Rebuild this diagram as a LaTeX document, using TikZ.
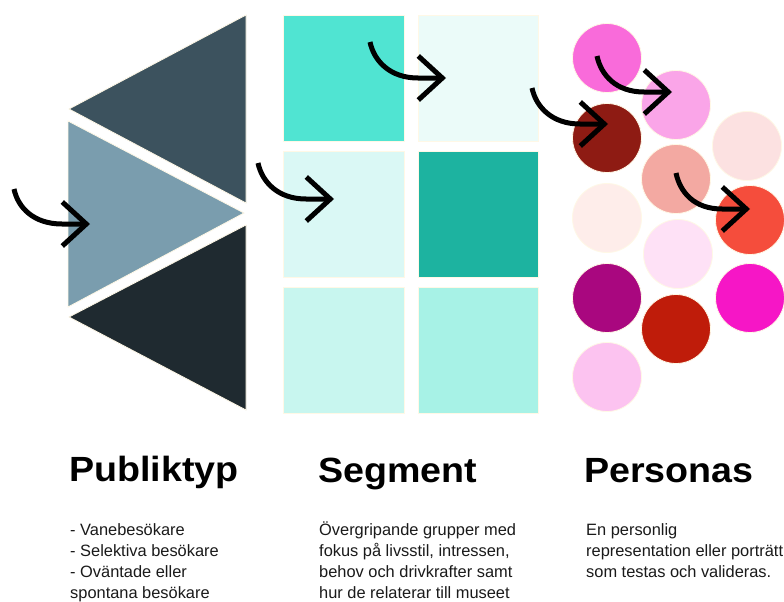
\documentclass[tikz,border=0pt]{standalone}
\usepackage{fontspec}
\setmainfont{Liberation Sans}
\newfontfamily\titlefam[FakeStretch=1.075]{Liberation Sans}
\usetikzlibrary{arrows.meta,calc}
\definecolor{triA}{HTML}{3C525E}
\definecolor{triB}{HTML}{7A9DAE}
\definecolor{triC}{HTML}{1F2A30}
\definecolor{sqA}{HTML}{50E4D2}
\definecolor{sqB}{HTML}{EBFBF9}
\definecolor{sqC}{HTML}{DAF8F5}
\definecolor{sqD}{HTML}{1DB3A0}
\definecolor{sqE}{HTML}{C8F6EF}
\definecolor{sqF}{HTML}{A7F2E6}
\definecolor{ciA}{HTML}{F96BDA}
\definecolor{ciB}{HTML}{FAA5E8}
\definecolor{ciC}{HTML}{8E1B13}
\definecolor{ciD}{HTML}{FCE1E1}
\definecolor{ciE}{HTML}{F3A9A2}
\definecolor{ciF}{HTML}{FEEDEA}
\definecolor{ciG}{HTML}{F54D3C}
\definecolor{ciH}{HTML}{FEE1F6}
\definecolor{ciI}{HTML}{A9077F}
\definecolor{ciJ}{HTML}{F616C6}
\definecolor{ciK}{HTML}{BF1C0A}
\definecolor{ciL}{HTML}{FCC3F0}
\definecolor{rimcol}{HTML}{FFF8E6}
\definecolor{bodytext}{HTML}{1A1A1A}
\tikzset{
  shapefill/.style={fill=#1, draw=rimcol, line width=0.8pt},
  curvearrow/.style={draw=black, line width=5pt,
    -{Straight Barb[length=24pt,width=44pt,sharp]}},
  titletext/.style={anchor=base west, inner sep=0pt, text=black,
    font=\titlefam\bfseries\fontsize{35}{42}\selectfont},
  bodyline/.style={anchor=base west, inner sep=0pt, text=bodytext,
    font=\fontsize{16.4}{22}\selectfont},
}
\newcommand{\curvedarrow}[2]{%
  \draw[curvearrow] (#1) .. controls +(4,19) and +(-28,0) .. ($(#2)+(-28,0)$) -- (#2);}
\begin{document}
\begin{tikzpicture}[x=1pt,y=-1pt]
\useasboundingbox (0,0) rectangle (784,602);
\fill[white] (0,0) rectangle (784,602);

% triangles
\path[shapefill=triA] (69,109) -- (246,15) -- (246,203) -- cycle;
\path[shapefill=triB] (68,121) -- (244,213) -- (68,307) -- cycle;
\path[shapefill=triC] (69,317) -- (246,225) -- (246,410) -- cycle;

% squares
\path[shapefill=sqA] (283,15) rectangle (404,141);
\path[shapefill=sqB] (418,15) rectangle (538,141);
\path[shapefill=sqC] (283,151) rectangle (404,277);
\path[shapefill=sqD] (418,151) rectangle (538,277);
\path[shapefill=sqE] (283,287) rectangle (404,413);
\path[shapefill=sqF] (418,287) rectangle (538,413);

% circles
\path[shapefill=ciA] (607,58) circle[radius=34.5];
\path[shapefill=ciB] (676,105) circle[radius=34.5];
\path[shapefill=ciC] (607,138) circle[radius=34.5];
\path[shapefill=ciD] (747,146) circle[radius=34.5];
\path[shapefill=ciE] (676,179) circle[radius=34.5];
\path[shapefill=ciF] (607,218) circle[radius=34.5];
\path[shapefill=ciG] (750,220) circle[radius=34.5];
\path[shapefill=ciH] (678,254) circle[radius=34.5];
\path[shapefill=ciI] (607,298) circle[radius=34.5];
\path[shapefill=ciJ] (750,298) circle[radius=34.5];
\path[shapefill=ciK] (676,329) circle[radius=34.5];
\path[shapefill=ciL] (607,377) circle[radius=34.5];

% arrow coordinates
\coordinate (s1) at (14,189);  \coordinate (t1) at (90,224);
\coordinate (s2) at (370,42);  \coordinate (t2) at (446,78);
\coordinate (s3) at (258,163); \coordinate (t3) at (334,199);
\coordinate (s4) at (532,88);  \coordinate (t4) at (608,124);
\coordinate (s5) at (597,56);  \coordinate (t5) at (672,92);
\coordinate (s6) at (676,173); \coordinate (t6) at (750,209);
\curvedarrow{s1}{t1}
\curvedarrow{s2}{t2}
\curvedarrow{s3}{t3}
\curvedarrow{s4}{t4}
\curvedarrow{s5}{t5}
\curvedarrow{s6}{t6}

% titles
\node[titletext] (title1) at (69,481) {Publiktyp};
\node[titletext] (title2) at (318,482) {Segment};
\node[titletext] (title3) at (584,482) {Personas};

% body text
\node[bodyline] (p1) at (70,535) {- Vanebesökare};
\node[bodyline] (p2) at (70,556) {- Selektiva besökare};
\node[bodyline] (p3) at (70,577) {- Oväntade eller};
\node[bodyline] (p4) at (70,598) {spontana besökare};

\node[bodyline] (s1t) at (319,535) {Övergripande grupper med};
\node[bodyline] (s2t) at (319,556) {fokus på livsstil, intressen,};
\node[bodyline] (s3t) at (319,577) {behov och drivkrafter samt};
\node[bodyline] (s4t) at (319,598) {hur de relaterar till museet};

\node[bodyline] (r1) at (586,535) {En personlig};
\node[bodyline] (r2) at (586,556) {representation eller porträtt};
\node[bodyline] (r3) at (586,577) {som testas och valideras.};
\end{tikzpicture}
\end{document}
